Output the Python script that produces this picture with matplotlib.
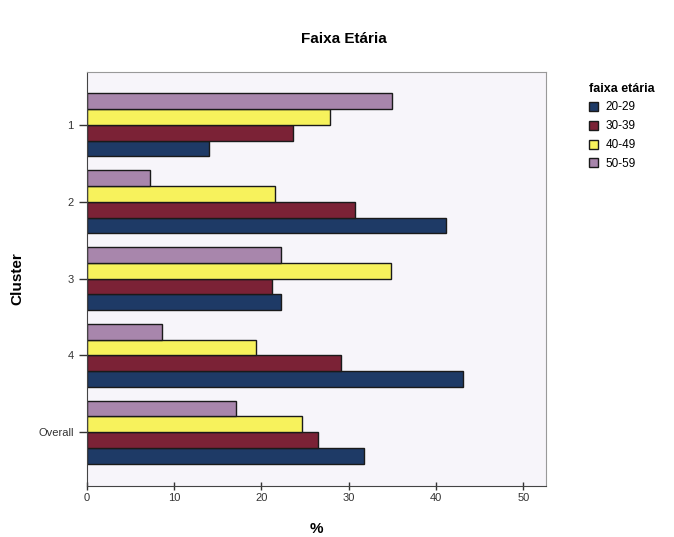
import matplotlib
matplotlib.use("Agg")
import matplotlib.pyplot as plt
import numpy as np

plt.rcParams['font.family'] = ['Liberation Sans', 'DejaVu Sans']

clusters = ["1", "2", "3", "4", "Overall"]
groups = ["20-29", "30-39", "40-49", "50-59"]
v_20_29 = [14.0, 41.1, 22.2, 43.1, 31.8]
v_30_39 = [23.6, 30.7, 21.2, 29.1, 26.5]
v_40_49 = [27.9, 21.6, 34.9, 19.4, 24.7]
v_50_59 = [35.0, 7.2, 22.2, 8.6, 17.1]
series = [v_20_29, v_30_39, v_40_49, v_50_59]
colors = ["#1e3a66", "#7b2236", "#f7f25c", "#a886ac"]

fig = plt.figure(figsize=(6.74, 5.37), dpi=100)
ax = fig.add_axes([0.129, 0.095, 0.681, 0.771])
ax.set_facecolor("#f7f5fa")

y = np.arange(len(clusters))
h = 0.205
offsets = [1.5 * h, 0.5 * h, -0.5 * h, -1.5 * h]
for vals, col, off, lab in zip(series, colors, offsets, groups):
    ax.barh(y + off, vals, height=h, color=col, edgecolor="#1a1a1a",
            linewidth=1.0, label=lab)

ax.set_ylim(4.70, -0.69)
ax.set_xlim(0, 52.6)
ax.set_yticks(y)
ax.set_yticklabels(clusters)
ax.set_xticks([0, 10, 20, 30, 40, 50])
for s in ["top", "right"]:
    ax.spines[s].set_color("#999999")
    ax.spines[s].set_linewidth(0.8)
for s in ["left", "bottom"]:
    ax.spines[s].set_color("#444444")
    ax.spines[s].set_linewidth(0.8)
ax.tick_params(axis="both", labelsize=8, colors="#333333", length=6, width=1)
ax.tick_params(axis="x", direction="inout", pad=2)

ax.set_xlabel("%", fontsize=11, fontweight="bold", labelpad=14)
ax.set_ylabel("Cluster", fontsize=11, fontweight="bold")
ax.yaxis.set_label_coords(-0.136, 0.5)
fig.text(0.51, 0.928, "Faixa Etária", ha="center", va="center",
         fontsize=11, fontweight="bold")

leg = ax.legend(loc="upper left", bbox_to_anchor=(1.07, 1.0), frameon=False,
                title="faixa etária", fontsize=8.5, handlelength=0.8,
                handleheight=0.8, labelspacing=0.58, handletextpad=0.6,
                alignment="left")
leg.get_title().set_fontweight("bold")
leg.get_title().set_fontsize(9)

fig.savefig("out.png", dpi=100)
